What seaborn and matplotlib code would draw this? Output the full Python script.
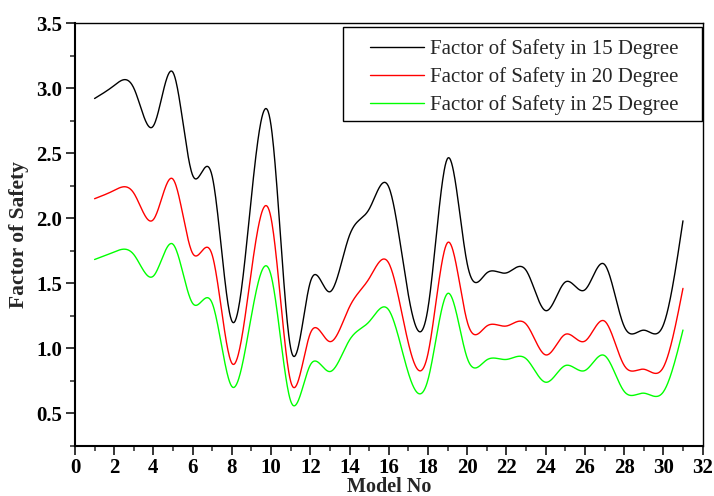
import numpy as np
import pandas as pd
import matplotlib
matplotlib.use("Agg")
import matplotlib.pyplot as plt
import seaborn as sns
from matplotlib.ticker import MultipleLocator
from matplotlib.patches import Rectangle

# ---- data ----
model_no = list(range(1, 32))
fos_15 = [2.92, 3.02, 3.00, 2.71, 3.12, 2.33, 2.32, 1.21, 2.17, 2.71,
          1.00, 1.51, 1.435, 1.87, 2.07, 2.24, 1.41, 1.31, 2.46, 1.65,
          1.58, 1.58, 1.60, 1.29, 1.51, 1.45, 1.645, 1.17, 1.14, 1.18, 1.98]
fos_20 = [2.15, 2.214, 2.193, 1.99, 2.30, 1.73, 1.716, 0.886, 1.60, 2.00,
          0.745, 1.116, 1.052, 1.32, 1.537, 1.655, 1.04, 0.96, 1.813, 1.205,
          1.172, 1.172, 1.187, 0.95, 1.108, 1.056, 1.21, 0.87, 0.84, 0.855, 1.461]
fos_25 = [1.683, 1.741, 1.721, 1.556, 1.80, 1.346, 1.346, 0.707, 1.254, 1.56,
          0.595, 0.873, 0.822, 1.065, 1.205, 1.295, 0.81, 0.76, 1.422, 0.925,
          0.912, 0.915, 0.921, 0.74, 0.868, 0.83, 0.945, 0.67, 0.656, 0.666, 1.141]
series_labels = ["Factor of Safety in 15 Degree",
                 "Factor of Safety in 20 Degree",
                 "Factor of Safety in 25 Degree"]
series_colors = ["#000000", "#ff0000", "#00ff00"]
x_ticks = list(range(0, 33, 2))
y_ticks = [0.5, 1.0, 1.5, 2.0, 2.5, 3.0, 3.5]


def natural_spline(x, y, n=40):
    """Smooth 'spline' line connection through the data points (rendering only)."""
    x = np.asarray(x, float)
    y = np.asarray(y, float)
    m = len(x)
    h = np.diff(x)
    A = np.zeros((m, m))
    b = np.zeros(m)
    A[0, 0] = A[-1, -1] = 1.0
    for i in range(1, m - 1):
        A[i, i - 1] = h[i - 1]
        A[i, i] = 2 * (h[i - 1] + h[i])
        A[i, i + 1] = h[i]
        b[i] = 6 * ((y[i + 1] - y[i]) / h[i] - (y[i] - y[i - 1]) / h[i - 1])
    M = np.linalg.solve(A, b)
    xs, ys = [], []
    for i in range(m - 1):
        t = np.linspace(x[i], x[i + 1], n, endpoint=(i == m - 2))
        a = x[i + 1] - t
        c = t - x[i]
        s = (M[i] * a ** 3 + M[i + 1] * c ** 3) / (6 * h[i]) \
            + (y[i] / h[i] - M[i] * h[i] / 6) * a \
            + (y[i + 1] / h[i] - M[i + 1] * h[i] / 6) * c
        xs.append(t)
        ys.append(s)
    return np.concatenate(xs), np.concatenate(ys)


sns.set_style("white")
plt.rcParams["font.family"] = ["Liberation Serif", "DejaVu Serif"]

fig = plt.figure(figsize=(7.14, 4.96), dpi=100)
ax = fig.add_axes([0.105, 0.1008, 0.984 - 0.105, 0.9536 - 0.1008])

frames = []
for lab, vals in zip(series_labels, [fos_15, fos_20, fos_25]):
    xs, ys = natural_spline(model_no, vals)
    frames.append(pd.DataFrame({"Model No": xs, "FoS": ys, "Series": lab}))
df = pd.concat(frames, ignore_index=True)

sns.lineplot(data=df, x="Model No", y="FoS", hue="Series", palette=series_colors,
             hue_order=series_labels, linewidth=1.0, ax=ax, sort=False, estimator=None)

ax.set_xlim(0, 32)
ax.set_ylim(0.25, 3.5)
ax.set_xticks(x_ticks)
ax.set_yticks(y_ticks)
ax.xaxis.set_minor_locator(MultipleLocator(1))
ax.yaxis.set_minor_locator(MultipleLocator(0.25))
ax.set_yticklabels([f"{v:.1f}" for v in y_ticks])
ax.tick_params(axis="both", which="major", direction="out", length=6.5, width=1.1,
               labelsize=15, colors="black", pad=3)
ax.tick_params(axis="x", which="major", pad=2)
ax.tick_params(axis="both", which="minor", direction="out", length=3.6, width=1.1)
ax.tick_params(top=False, right=False, which="both")
ax.tick_params(bottom=True, left=True, which="both")
for lbl in ax.get_xticklabels() + ax.get_yticklabels():
    lbl.set_fontweight("bold")

for side in ["left", "bottom"]:
    ax.spines[side].set_linewidth(1.5)
    ax.spines[side].set_color("black")
for side in ["top", "right"]:
    ax.spines[side].set_linewidth(1.0)
    ax.spines[side].set_color("black")

ax.set_xlabel("Model No", fontsize=14.5, fontweight="bold", labelpad=-0.5)
ax.set_ylabel("Factor of Safety", fontsize=15.5, fontweight="bold", labelpad=5)

leg = ax.legend(loc="upper left", bbox_to_anchor=(0.470, 0.962), frameon=False,
                fontsize=15, handlelength=2.6, handletextpad=0.3,
                borderpad=0.0, labelspacing=0.40, borderaxespad=0.0)
leg.set_title(None)
ax.add_patch(Rectangle((0.427, 0.768), 0.9989 - 0.427, 0.9905 - 0.768,
                       transform=ax.transAxes, fill=False, edgecolor="black",
                       linewidth=1.0, zorder=5))

fig.savefig("out.png", dpi=100)
